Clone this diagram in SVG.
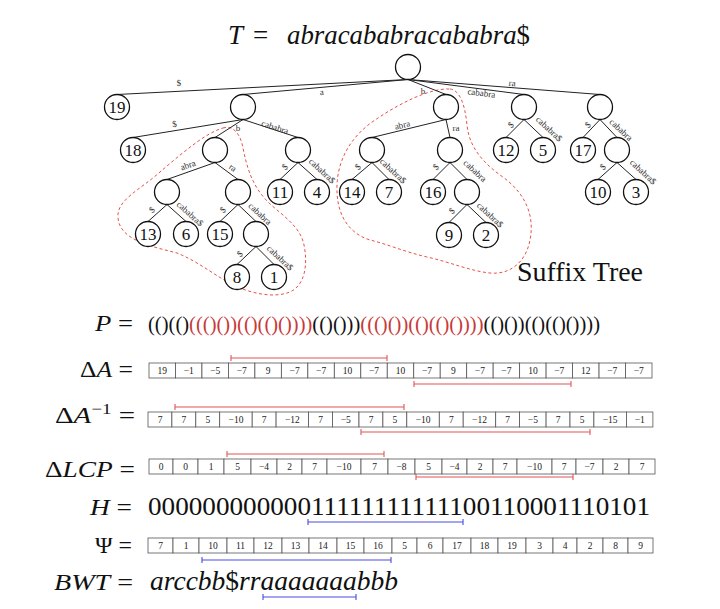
<svg xmlns="http://www.w3.org/2000/svg" width="720" height="609" viewBox="0 0 720 609" font-family="'Liberation Serif', 'DejaVu Serif', serif">
<style>
text{font-family:'Liberation Serif','DejaVu Serif',serif;fill:#111}
.nd circle{fill:#fff;stroke:#111;stroke-width:1.3}
.nd text{font-size:17px;text-anchor:middle}
.edges line{stroke:#222;stroke-width:1}
.el{font-size:9px;text-anchor:middle;fill:#333}
.blob{fill:none;stroke:#e8504a;stroke-width:1;stroke-dasharray:3 2.5}
.cells rect{fill:#fff;stroke:#555;stroke-width:0.8}
.cells text{font-size:9.5px;text-anchor:middle;fill:#222}
.lab{font-size:23px;text-anchor:end}
.it{font-style:italic}
.rb{stroke:#e05555;stroke-width:1.1;fill:none}
.bb{stroke:#4a4ae0;stroke-width:1.1;fill:none}
.red{fill:#c83a3a}
</style>

<!-- title -->
<text x="228" y="44" font-size="27" class="it">T</text>
<text x="253" y="44" font-size="27">=</text>
<text x="287" y="44" font-size="27" textLength="243" lengthAdjust="spacingAndGlyphs"><tspan class="it">abracababracababra</tspan>$</text>

<!-- red dashed regions -->
<path class="blob" d="M223,128 C232,125 240,132 243,148 C247,168 252,185 267,201 C280,214 300,225 304,245 C308,265 305,285 290,292 C275,298 255,294 240,288 C220,280 200,262 177,253 C150,246 120,240 118,218 C116,200 140,190 160,172 C180,155 205,133 223,128 Z"/>
<path class="blob" d="M450,89 C460,90 465,105 467,125 C469,145 480,160 500,175 C525,192 535,215 530,240 C526,262 510,275 490,273 C470,271 450,262 427,257 C405,252 387,244 370,240 C345,232 336,210 337,185 C338,160 350,137 375,120 C400,103 430,88 450,89 Z"/>

<!-- connectors -->
<g id="edges" class="edges">
<line x1="408" y1="79.5" x2="117" y2="94.5"/>
<line x1="408" y1="79.5" x2="243" y2="94.5"/>
<line x1="408" y1="79.5" x2="446" y2="94.5"/>
<line x1="408" y1="79.5" x2="524" y2="94.5"/>
<line x1="408" y1="79.5" x2="600" y2="94.5"/>
<line x1="243" y1="119.5" x2="133" y2="137.5"/>
<line x1="243" y1="119.5" x2="215" y2="137.5"/>
<line x1="243" y1="119.5" x2="298" y2="137.5"/>
<line x1="446" y1="119.5" x2="372" y2="137.5"/>
<line x1="446" y1="119.5" x2="450" y2="137.5"/>
<line x1="524" y1="119.5" x2="506" y2="137.5"/>
<line x1="524" y1="119.5" x2="543" y2="137.5"/>
<line x1="600" y1="119.5" x2="583" y2="137.5"/>
<line x1="600" y1="119.5" x2="617" y2="137.5"/>
<line x1="215" y1="162.5" x2="167" y2="179.5"/>
<line x1="215" y1="162.5" x2="238" y2="179.5"/>
<line x1="298" y1="162.5" x2="280" y2="179.5"/>
<line x1="298" y1="162.5" x2="317" y2="179.5"/>
<line x1="372" y1="162.5" x2="352" y2="179.5"/>
<line x1="372" y1="162.5" x2="389" y2="179.5"/>
<line x1="450" y1="162.5" x2="433" y2="179.5"/>
<line x1="450" y1="162.5" x2="467" y2="179.5"/>
<line x1="617" y1="162.5" x2="598" y2="179.5"/>
<line x1="617" y1="162.5" x2="636" y2="179.5"/>
<line x1="167" y1="204.5" x2="148" y2="221.5"/>
<line x1="167" y1="204.5" x2="186" y2="221.5"/>
<line x1="238" y1="204.5" x2="220" y2="221.5"/>
<line x1="238" y1="204.5" x2="256" y2="221.5"/>
<line x1="467" y1="204.5" x2="449" y2="222.5"/>
<line x1="467" y1="204.5" x2="486" y2="222.5"/>
<line x1="256" y1="246.5" x2="237" y2="264.5"/>
<line x1="256" y1="246.5" x2="274" y2="264.5"/>
<!-- edge labels -->
<text class="el" transform="translate(179,86) rotate(-3)">$</text>
<text class="el" transform="translate(322,95) rotate(-5)">a</text>
<text class="el" transform="translate(423,94)">b</text>
<text class="el" transform="translate(481,96) rotate(7.4)">cababra</text>
<text class="el" transform="translate(512,86) rotate(4.5)">ra</text>
<text class="el" transform="translate(175,127) rotate(-9.3)">$</text>
<text class="el" transform="translate(238,131)">b</text>
<text class="el" transform="translate(274,130) rotate(18)">cababra</text>
<text class="el" transform="translate(403,128) rotate(-13.7)">abra</text>
<text class="el" transform="translate(456,131)">ra</text>
<text class="el" transform="translate(513,127) rotate(-43)">$</text>
<text class="el" transform="translate(547,131) rotate(43)">cababra$</text>
<text class="el" transform="translate(590,127) rotate(-43)">$</text>
<text class="el" transform="translate(619,132) rotate(43)">cababra</text>
<text class="el" transform="translate(189,168) rotate(-19.5)">abra</text>
<text class="el" transform="translate(231,170) rotate(36.5)">ra</text>
<text class="el" transform="translate(287,169) rotate(-43)">$</text>
<text class="el" transform="translate(320,173) rotate(43)">cababra$</text>
<text class="el" transform="translate(360,169) rotate(-43)">$</text>
<text class="el" transform="translate(391,173) rotate(43)">cababra$</text>
<text class="el" transform="translate(438,169) rotate(-43)">$</text>
<text class="el" transform="translate(473,173) rotate(43)">cababra</text>
<text class="el" transform="translate(605,169) rotate(-43)">$</text>
<text class="el" transform="translate(641,174) rotate(43)">cababra$</text>
<text class="el" transform="translate(154,212) rotate(-42)">$</text>
<text class="el" transform="translate(188,216) rotate(42)">cababra$</text>
<text class="el" transform="translate(225,212) rotate(-43)">$</text>
<text class="el" transform="translate(258,216) rotate(43)">cababra</text>
<text class="el" transform="translate(454,213) rotate(-43)">$</text>
<text class="el" transform="translate(488,217) rotate(43)">cababra$</text>
<text class="el" transform="translate(242,256) rotate(-43)">$</text>
<text class="el" transform="translate(278,260) rotate(43)">cababra$</text>
</g>

<!-- nodes -->
<g id="n-root" class="nd"><circle cx="408" cy="67" r="12.5"/></g>
<g id="n-19" class="nd"><circle cx="117" cy="107" r="12.5"/><text x="117" y="113">19</text></g>
<g id="n-a" class="nd"><circle cx="243" cy="107" r="12.5"/></g>
<g id="n-b" class="nd"><circle cx="446" cy="107" r="12.5"/></g>
<g id="n-cababra" class="nd"><circle cx="524" cy="107" r="12.5"/></g>
<g id="n-ra" class="nd"><circle cx="600" cy="107" r="12.5"/></g>
<g id="n-18" class="nd"><circle cx="133" cy="150" r="12.5"/><text x="133" y="156">18</text></g>
<g id="n-ab" class="nd"><circle cx="215" cy="150" r="12.5"/></g>
<g id="n-ac" class="nd"><circle cx="298" cy="150" r="12.5"/></g>
<g id="n-ba" class="nd"><circle cx="372" cy="150" r="12.5"/></g>
<g id="n-br" class="nd"><circle cx="450" cy="150" r="12.5"/></g>
<g id="n-12" class="nd"><circle cx="506" cy="150" r="12.5"/><text x="506" y="156">12</text></g>
<g id="n-5" class="nd"><circle cx="543" cy="150" r="12.5"/><text x="543" y="156">5</text></g>
<g id="n-17" class="nd"><circle cx="583" cy="150" r="12.5"/><text x="583" y="156">17</text></g>
<g id="n-ri" class="nd"><circle cx="617" cy="150" r="12.5"/></g>
<g id="n-aba" class="nd"><circle cx="167" cy="192" r="12.5"/></g>
<g id="n-abr" class="nd"><circle cx="238" cy="192" r="12.5"/></g>
<g id="n-11" class="nd"><circle cx="280" cy="192" r="12.5"/><text x="280" y="198">11</text></g>
<g id="n-4" class="nd"><circle cx="317" cy="192" r="12.5"/><text x="317" y="198">4</text></g>
<g id="n-14" class="nd"><circle cx="352" cy="192" r="12.5"/><text x="352" y="198">14</text></g>
<g id="n-7" class="nd"><circle cx="389" cy="192" r="12.5"/><text x="389" y="198">7</text></g>
<g id="n-16" class="nd"><circle cx="433" cy="192" r="12.5"/><text x="433" y="198">16</text></g>
<g id="n-bri" class="nd"><circle cx="467" cy="192" r="12.5"/></g>
<g id="n-10" class="nd"><circle cx="598" cy="192" r="12.5"/><text x="598" y="198">10</text></g>
<g id="n-3" class="nd"><circle cx="636" cy="192" r="12.5"/><text x="636" y="198">3</text></g>
<g id="n-13" class="nd"><circle cx="148" cy="234" r="12.5"/><text x="148" y="240">13</text></g>
<g id="n-6" class="nd"><circle cx="186" cy="234" r="12.5"/><text x="186" y="240">6</text></g>
<g id="n-15" class="nd"><circle cx="220" cy="234" r="12.5"/><text x="220" y="240">15</text></g>
<g id="n-abri" class="nd"><circle cx="256" cy="234" r="12.5"/></g>
<g id="n-9" class="nd"><circle cx="449" cy="235" r="12.5"/><text x="449" y="241">9</text></g>
<g id="n-2" class="nd"><circle cx="486" cy="235" r="12.5"/><text x="486" y="241">2</text></g>
<g id="n-8" class="nd"><circle cx="237" cy="277" r="12.5"/><text x="237" y="283">8</text></g>
<g id="n-1" class="nd"><circle cx="274" cy="277" r="12.5"/><text x="274" y="283">1</text></g>

<text x="517" y="281" font-size="27" textLength="126" lengthAdjust="spacingAndGlyphs">Suffix Tree</text>

<!-- P -->
<text class="lab" x="133" y="331" textLength="38" lengthAdjust="spacingAndGlyphs"><tspan class="it">P</tspan> =</text>
<text x="148" y="331" font-size="20" textLength="452" lengthAdjust="spacingAndGlyphs">(()(()<tspan class="red">((()())(()(()())))</tspan>(()()))<tspan class="red">((()())(()(()())))</tspan>(()())(()(()())))</text>

<!-- Delta A -->
<text class="lab" x="133" y="377" textLength="53" lengthAdjust="spacingAndGlyphs">Δ<tspan class="it">A</tspan> =</text>
<g class="cells">
<rect x="149" y="363" width="26.47" height="15"/><rect x="175.47" y="363" width="26.47" height="15"/><rect x="201.95" y="363" width="26.47" height="15"/><rect x="228.42" y="363" width="26.47" height="15"/><rect x="254.89" y="363" width="26.47" height="15"/><rect x="281.37" y="363" width="26.47" height="15"/><rect x="307.84" y="363" width="26.47" height="15"/><rect x="334.32" y="363" width="26.47" height="15"/><rect x="360.79" y="363" width="26.47" height="15"/><rect x="387.26" y="363" width="26.47" height="15"/><rect x="413.74" y="363" width="26.47" height="15"/><rect x="440.21" y="363" width="26.47" height="15"/><rect x="466.68" y="363" width="26.47" height="15"/><rect x="493.16" y="363" width="26.47" height="15"/><rect x="519.63" y="363" width="26.47" height="15"/><rect x="546.11" y="363" width="26.47" height="15"/><rect x="572.58" y="363" width="26.47" height="15"/><rect x="599.05" y="363" width="26.47" height="15"/><rect x="625.53" y="363" width="26.47" height="15"/>
<text x="162.2" y="374">19</text><text x="188.7" y="374">−1</text><text x="215.2" y="374">−5</text><text x="241.7" y="374">−7</text><text x="268.1" y="374">9</text><text x="294.6" y="374">−7</text><text x="321.1" y="374">−7</text><text x="347.6" y="374">10</text><text x="374" y="374">−7</text><text x="400.5" y="374">10</text><text x="427" y="374">−7</text><text x="453.4" y="374">9</text><text x="479.9" y="374">−7</text><text x="506.4" y="374">−7</text><text x="532.9" y="374">10</text><text x="559.3" y="374">−7</text><text x="585.8" y="374">12</text><text x="612.3" y="374">−7</text><text x="638.8" y="374">−7</text>
</g>
<path class="rb" d="M231,358 H387 M231,355 V361 M387,355 V361"/>
<path class="rb" d="M414,384 H571 M414,381 V387 M571,381 V387"/>

<!-- Delta A inverse -->
<text class="lab" x="135" y="423" textLength="80" lengthAdjust="spacingAndGlyphs">Δ<tspan class="it">A</tspan><tspan font-size="15" dy="-9">−1</tspan><tspan dy="9"> =</tspan></text>
<g class="cells">
<rect x="148" y="412" width="23.9" height="15"/><rect x="171.9" y="412" width="23.9" height="15"/><rect x="195.8" y="412" width="23.9" height="15"/><rect x="219.7" y="412" width="32.5" height="15"/><rect x="252.2" y="412" width="23.9" height="15"/><rect x="276.1" y="412" width="32.5" height="15"/><rect x="308.6" y="412" width="23.9" height="15"/><rect x="332.5" y="412" width="26.5" height="15"/><rect x="359" y="412" width="23.9" height="15"/><rect x="382.9" y="412" width="23.9" height="15"/><rect x="406.8" y="412" width="32.5" height="15"/><rect x="439.3" y="412" width="23.9" height="15"/><rect x="463.2" y="412" width="32.5" height="15"/><rect x="495.7" y="412" width="23.9" height="15"/><rect x="519.6" y="412" width="26.5" height="15"/><rect x="546.1" y="412" width="23.9" height="15"/><rect x="570" y="412" width="23.9" height="15"/><rect x="593.9" y="412" width="32.5" height="15"/><rect x="626.4" y="412" width="26.5" height="15"/>
<text x="160" y="423">7</text><text x="183.9" y="423">7</text><text x="207.8" y="423">5</text><text x="236" y="423">−10</text><text x="264.2" y="423">7</text><text x="292.4" y="423">−12</text><text x="320.6" y="423">7</text><text x="345.8" y="423">−5</text><text x="371" y="423">7</text><text x="394.9" y="423">5</text><text x="423.1" y="423">−10</text><text x="451.3" y="423">7</text><text x="479.5" y="423">−12</text><text x="507.7" y="423">7</text><text x="532.9" y="423">−5</text><text x="558.1" y="423">7</text><text x="582" y="423">5</text><text x="610.2" y="423">−15</text><text x="639.7" y="423">−1</text>
</g>
<path class="rb" d="M175,407 H404 M175,404 V410 M404,404 V410"/>
<path class="rb" d="M361,432 H590 M361,429 V435 M590,429 V435"/>

<!-- Delta LCP -->
<text class="lab" x="135" y="477" textLength="90" lengthAdjust="spacingAndGlyphs">Δ<tspan class="it">LCP</tspan> =</text>
<g class="cells">
<rect x="149" y="459" width="24" height="15"/><rect x="173" y="459" width="25" height="15"/><rect x="198" y="459" width="26" height="15"/><rect x="224" y="459" width="27" height="15"/><rect x="251" y="459" width="26" height="15"/><rect x="277" y="459" width="25" height="15"/><rect x="302" y="459" width="25" height="15"/><rect x="327" y="459" width="34" height="15"/><rect x="361" y="459" width="27" height="15"/><rect x="388" y="459" width="27" height="15"/><rect x="415" y="459" width="27" height="15"/><rect x="442" y="459" width="25" height="15"/><rect x="467" y="459" width="26" height="15"/><rect x="493" y="459" width="24" height="15"/><rect x="517" y="459" width="35" height="15"/><rect x="552" y="459" width="24" height="15"/><rect x="576" y="459" width="27" height="15"/><rect x="603" y="459" width="26" height="15"/><rect x="629" y="459" width="26" height="15"/>
<text x="161" y="470">0</text><text x="185.5" y="470">0</text><text x="211" y="470">1</text><text x="237.5" y="470">5</text><text x="264" y="470">−4</text><text x="289.5" y="470">2</text><text x="314.5" y="470">7</text><text x="344" y="470">−10</text><text x="374.5" y="470">7</text><text x="401.5" y="470">−8</text><text x="428.5" y="470">5</text><text x="454.5" y="470">−4</text><text x="480" y="470">2</text><text x="505" y="470">7</text><text x="534.5" y="470">−10</text><text x="564" y="470">7</text><text x="589.5" y="470">−7</text><text x="616" y="470">2</text><text x="642" y="470">7</text>
</g>
<path class="rb" d="M227,454 H384 M227,451 V457 M384,451 V457"/>
<path class="rb" d="M416,477 H573 M416,474 V480 M573,474 V480"/>

<!-- H -->
<text class="lab" x="132" y="515" textLength="42" lengthAdjust="spacingAndGlyphs"><tspan class="it">H</tspan> =</text>
<text x="148" y="515" font-size="25" textLength="502" lengthAdjust="spacingAndGlyphs">00000000000011111111111100110001110101</text>
<path class="bb" d="M308,522 H463 M308,519 V525 M463,519 V525"/>

<!-- Psi -->
<text class="lab" x="132" y="553" textLength="37" lengthAdjust="spacingAndGlyphs">Ψ =</text>
<g class="cells">
<rect x="148" y="538" width="25" height="15"/><rect x="173" y="538" width="26" height="15"/><rect x="199" y="538" width="28" height="15"/><rect x="227" y="538" width="27" height="15"/><rect x="254" y="538" width="28" height="15"/><rect x="282" y="538" width="27" height="15"/><rect x="309" y="538" width="28" height="15"/><rect x="337" y="538" width="27" height="15"/><rect x="364" y="538" width="28" height="15"/><rect x="392" y="538" width="25" height="15"/><rect x="417" y="538" width="26" height="15"/><rect x="443" y="538" width="28" height="15"/><rect x="471" y="538" width="27" height="15"/><rect x="498" y="538" width="28" height="15"/><rect x="526" y="538" width="27" height="15"/><rect x="553" y="538" width="24" height="15"/><rect x="577" y="538" width="26" height="15"/><rect x="603" y="538" width="25" height="15"/><rect x="628" y="538" width="25" height="15"/>
<text x="160.5" y="549">7</text><text x="186" y="549">1</text><text x="213" y="549">10</text><text x="240.5" y="549">11</text><text x="268" y="549">12</text><text x="295.5" y="549">13</text><text x="323" y="549">14</text><text x="350.5" y="549">15</text><text x="378" y="549">16</text><text x="404.5" y="549">5</text><text x="430" y="549">6</text><text x="457" y="549">17</text><text x="484.5" y="549">18</text><text x="512" y="549">19</text><text x="539.5" y="549">3</text><text x="565" y="549">4</text><text x="590" y="549">2</text><text x="615.5" y="549">8</text><text x="640.5" y="549">9</text>
</g>
<path class="bb" d="M202,560 H391 M202,557 V563 M391,557 V563"/>

<!-- BWT -->
<text class="lab" x="133" y="590" font-size="26" textLength="79" lengthAdjust="spacingAndGlyphs"><tspan class="it">BWT</tspan> =</text>
<text x="150" y="590" font-size="27" textLength="248" lengthAdjust="spacingAndGlyphs"><tspan class="it">arccbb</tspan>$<tspan class="it">rraaaaaaabbb</tspan></text>
<path class="bb" d="M263,597 H356 M263,594 V600 M356,594 V600"/>
</svg>
